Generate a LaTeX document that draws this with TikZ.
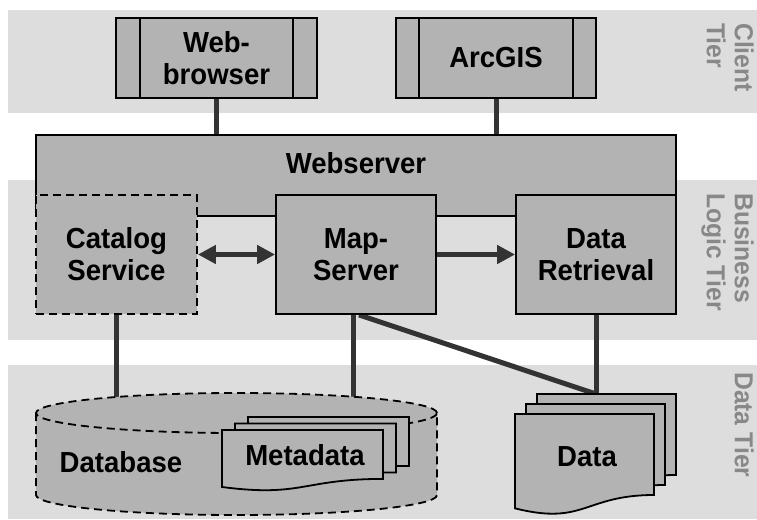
\documentclass[tikz,border=0pt]{standalone}
\usepackage{fontspec}
\setmainfont{Liberation Sans}[FakeStretch=0.95]
\usetikzlibrary{arrows.meta}
\definecolor{band}{HTML}{DDDDDD}
\definecolor{boxgray}{HTML}{B3B3B3}
\definecolor{conn}{HTML}{333333}
\definecolor{tiergray}{HTML}{888888}
\newcommand{\dgfont}{\fontsize{29pt}{32pt}\selectfont\bfseries}
\newcommand{\tierfont}{\fontsize{26pt}{28pt}\selectfont\bfseries}
\pgfdeclarelayer{bg}
\pgfdeclarelayer{lines}
\pgfsetlayers{bg,lines,main}
\newcommand{\docpage}[4]{%
  \draw[page] (#1,#2) -- ({#1+#3},#2) -- ({#1+#3},{#2+0.802*#4})
    .. controls ({#1+0.5*#3},{#2+0.802*#4}) and ({#1+0.5*#3},{#2+1.107*#4}) ..
    (#1,{#2+0.934*#4}) -- cycle;}
\tikzset{
  bandbox/.style={fill=band, draw=none},
  box/.style={draw=black, line width=1.8pt, fill=boxgray, align=center,
    font=\dgfont, inner sep=0pt, minimum width=160pt, minimum height=119pt},
  procbox/.style={box, minimum height=80pt},
  dashbox/.style={box, dash pattern=on 8pt off 5pt},
  page/.style={draw=black, line width=1.8pt, fill=boxgray, line join=miter},
  txt/.style={font=\dgfont, inner sep=0pt, align=center},
  tier/.style={font=\tierfont, text=tiergray, rotate=-90, align=left,
    inner sep=0pt, anchor=north west},
  wire/.style={draw=conn, line width=5pt},
  flow/.style={draw=conn, line width=5.5pt},
  tip/.tip={Triangle[length=18pt, width=18pt]}
}
\begin{document}
\begin{tikzpicture}[x=1pt, y=-1pt]
\useasboundingbox (0,0) rectangle (757,519);

% tier bands
\begin{pgfonlayer}{bg}
  \fill[white] (0,0) rectangle (757,519);
  \path[bandbox] (8,10) rectangle (757,113);
  \path[bandbox] (8,180) rectangle (757,340);
  \path[bandbox] (8,365) rectangle (757,519);
\end{pgfonlayer}

% tier labels
\node[tier] (tclient) at (754,23) {Client\\Tier};
\node[tier] (tlogic) at (754,193) {Business\\Logic Tier};
\node[tier] (tdata) at (754,372) {Data Tier};

% client tier
\node[procbox, minimum width=201pt] (wb) at (216.5,58) {Web-\\browser};
\draw[line width=1.8pt] ([xshift=25pt]wb.north west) -- ([xshift=25pt]wb.south west);
\draw[line width=1.8pt] ([xshift=-25pt]wb.north east) -- ([xshift=-25pt]wb.south east);
\node[procbox, minimum width=200pt] (arc) at (496,58) {ArcGIS};
\draw[line width=1.8pt] ([xshift=24pt]arc.north west) -- ([xshift=24pt]arc.south west);
\draw[line width=1.8pt] ([xshift=-24pt]arc.north east) -- ([xshift=-24pt]arc.south east);

% business logic tier
\node[box, minimum width=640pt, minimum height=81pt] (web) at (356,175.5) {};
\node[txt] (webtxt) at (356,163) {Webserver};
\node[dashbox, minimum width=161pt] (cat) at (116.5,254.5) {Catalog\\Service};
\node[box] (map) at (356,254.5) {Map-\\Server};
\node[box] (dr) at (596,254.5) {Data\\Retrieval};

% data tier: database cylinder
\fill[boxgray] (36,413) -- (36,495)
  .. controls (36,506.05) and (125.76,515) .. (236.5,515)
  .. controls (347.24,515) and (437,506.05) .. (437,495) -- (437,413) -- cycle;
\draw[line width=1.8pt, dash pattern=on 8pt off 5pt] (36,413) -- (36,495)
  .. controls (36,506.05) and (125.76,515) .. (236.5,515)
  .. controls (347.24,515) and (437,506.05) .. (437,495) -- (437,413);
\draw[line width=1.8pt, dash pattern=on 8pt off 5pt, fill=boxgray]
  (236.5,413) ellipse [x radius=200.5pt, y radius=20pt];
\coordinate (dbin) at (116.5,397);
\node[txt] (dbtxt) at (121,462) {Database};

% metadata pages
\docpage{248}{417}{161}{61}
\docpage{235}{423.5}{161}{61}
\docpage{222}{430}{161}{61}
\coordinate (metatop) at (353,417);
\node[txt] (metatxt) at (305,455) {Metadata};

% data pages
\docpage{537}{394}{139}{101}
\docpage{526}{404}{139}{101}
\docpage{515}{414}{139}{101}
\coordinate (datatop) at (596,394);
\node[txt] (datatxt) at (587,457) {Data};

% connectors
\begin{pgfonlayer}{lines}
  \draw[wire] (wb.south) -- (wb.south |- web.north);
  \draw[wire] (arc.south) -- (arc.south |- web.north);
  \draw[wire] (cat.south) -- (dbin);
  \draw[wire] ([xshift=-3pt]map.south) -- (metatop);
  \draw[wire] ([xshift=3pt]map.south) -- (datatop);
  \draw[wire] (dr.south) -- (datatop);
  \draw[flow, tip-tip] (cat.east) -- (map.west);
  \draw[flow, -tip] (map.east) -- (dr.west);
\end{pgfonlayer}
\end{tikzpicture}
\end{document}
